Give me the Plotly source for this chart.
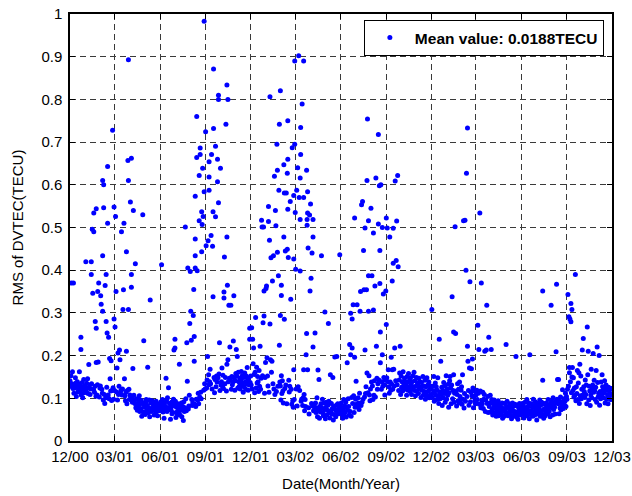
import pandas as pd
import plotly.graph_objects as go

# ---------------- data ----------------
tick_labels = ['12/00', '03/01', '06/01', '09/01', '12/01', '03/02', '06/02',
               '09/02', '12/02', '03/03', '06/03', '09/03', '12/03']
legend_text = 'Mean value: 0.0188TECU'

# quiet-day RMS values (TECU), one list per 3-month period, in time order
base_q1 = [0.141,0.128,0.153,0.119,0.134,0.162,0.123,0.145,0.112,0.131,
           0.124,0.148,0.136,0.104,0.127,0.139,0.115,0.132,0.121,0.094,
           0.133,0.117,0.142,0.108,0.126,0.137,0.101,0.122,0.144,0.113,
           0.129,0.118,0.103,0.116,0.135,0.124,0.146,0.111,0.098,0.125,
           0.131,0.109,0.122,0.102,0.134,0.119,0.113,0.141,0.121,0.097,
           0.114,0.128,0.117,0.105,0.123,0.108,0.132,0.092,0.118,0.111,
           0.103,0.124,0.129,0.107,0.099,0.121,0.112,0.127,0.096,0.118,
           0.109,0.088,0.116,0.101,0.113,0.126,0.119,0.097,0.108,0.122,
           0.099,0.114,0.091,0.117,0.106,0.095,0.118,0.104,0.125,0.098,0.111]
base_q2 = [0.118,0.107,0.098,0.126,0.115,0.104,0.096,0.121,0.109,0.128,
           0.116,0.097,0.112,0.119,0.089,0.108,0.122,0.101,0.113,0.127,
           0.117,0.106,0.094,0.115,0.103,0.087,0.118,0.099,0.111,0.121,
           0.097,0.108,0.086,0.102,0.116,0.105,0.091,0.098,0.079,0.107,
           0.096,0.088,0.104,0.078,0.099,0.085,0.072,0.097,0.081,0.093,
           0.106,0.069,0.087,0.076,0.095,0.058,0.089,0.077,0.068,0.098,
           0.084,0.079,0.062,0.091,0.097,0.071,0.083,0.088,0.066,0.078,
           0.096,0.057,0.081,0.089,0.069,0.076,0.094,0.073,0.086,0.079,
           0.061,0.087,0.074,0.067,0.093,0.082,0.088,0.059,0.077,0.071,0.085,0.079]
base_q3 = [0.083,0.071,0.092,0.063,0.078,0.097,0.068,0.084,0.053,0.089,
           0.072,0.081,0.061,0.094,0.069,0.101,0.077,0.058,0.073,0.088,
           0.079,0.051,0.074,0.091,0.064,0.082,0.067,0.098,0.059,0.085,
           0.071,0.093,0.055,0.079,0.068,0.062,0.087,0.076,0.066,0.103,
           0.061,0.083,0.072,0.089,0.057,0.074,0.081,0.048,0.092,0.069,
           0.078,0.063,0.099,0.071,0.084,0.058,0.088,0.075,0.082,0.107,
           0.068,0.091,0.079,0.062,0.097,0.083,0.089,0.073,0.102,0.077,
           0.086,0.109,0.081,0.098,0.092,0.118,0.096,0.112,0.087,0.121,
           0.103,0.127,0.114,0.099,0.123,0.108,0.131,0.104,0.119,0.113,0.134,0.122]
base_q4 = [0.132,0.151,0.124,0.143,0.162,0.128,0.147,0.119,0.139,0.168,
           0.134,0.153,0.141,0.122,0.158,0.137,0.129,0.149,0.113,0.144,
           0.161,0.127,0.152,0.138,0.121,0.148,0.133,0.157,0.142,0.118,
           0.146,0.131,0.139,0.171,0.128,0.154,0.123,0.141,0.163,0.134,
           0.149,0.137,0.117,0.159,0.131,0.152,0.139,0.112,0.147,0.126,
           0.143,0.164,0.121,0.151,0.132,0.138,0.169,0.127,0.148,0.119,
           0.141,0.158,0.133,0.152,0.137,0.124,0.161,0.139,0.128,0.147,
           0.122,0.144,0.163,0.131,0.153,0.136,0.114,0.149,0.127,0.159,
           0.138,0.121,0.152,0.134,0.172,0.143,0.119,0.148,0.131,0.162,0.137]
base_q5 = [0.152,0.131,0.164,0.122,0.143,0.181,0.134,0.156,0.113,0.161,
           0.142,0.124,0.173,0.136,0.151,0.139,0.116,0.165,0.128,0.154,
           0.121,0.147,0.188,0.132,0.153,0.119,0.162,0.141,0.112,0.149,
           0.133,0.171,0.138,0.124,0.152,0.129,0.158,0.114,0.143,0.127,
           0.148,0.118,0.161,0.137,0.103,0.134,0.151,0.122,0.139,0.109,
           0.131,0.147,0.116,0.142,0.098,0.128,0.119,0.153,0.107,0.138,
           0.121,0.096,0.132,0.111,0.141,0.117,0.089,0.129,0.106,0.123,
           0.097,0.131,0.108,0.087,0.118,0.101,0.126,0.104,0.115,0.091,
           0.112,0.099,0.121,0.086,0.109,0.094,0.079,0.106,0.097,0.088]
base_q6 = [0.108,0.091,0.122,0.099,0.082,0.113,0.127,0.088,0.102,0.118,
           0.079,0.107,0.093,0.098,0.116,0.083,0.101,0.089,0.109,0.071,
           0.097,0.081,0.092,0.111,0.068,0.087,0.103,0.078,0.063,0.091,
           0.076,0.099,0.069,0.088,0.058,0.082,0.097,0.071,0.086,0.079,
           0.061,0.089,0.067,0.078,0.101,0.057,0.083,0.072,0.092,0.053,
           0.081,0.068,0.087,0.062,0.077,0.098,0.066,0.059,0.089,0.074,
           0.069,0.052,0.079,0.091,0.061,0.072,0.084,0.058,0.093,0.067,
           0.054,0.082,0.071,0.088,0.063,0.076,0.068,0.049,0.081,0.062,
           0.092,0.073,0.057,0.084,0.051,0.069,0.087,0.064,0.078,0.066,0.059,0.083]
base_q7 = [0.071,0.089,0.062,0.078,0.053,0.074,0.097,0.064,0.082,0.068,
           0.091,0.056,0.079,0.063,0.072,0.099,0.081,0.061,0.087,0.069,
           0.083,0.058,0.102,0.073,0.088,0.077,0.106,0.067,0.092,0.079,
           0.098,0.071,0.086,0.108,0.082,0.101,0.089,0.074,0.112,0.093,
           0.104,0.083,0.117,0.091,0.109,0.098,0.081,0.121,0.103,0.092,
           0.111,0.127,0.099,0.118,0.087,0.113,0.102,0.131,0.108,0.094,
           0.122,0.101,0.138,0.112,0.129,0.097,0.119,0.107,0.141,0.123,
           0.103,0.132,0.114,0.148,0.121,0.134,0.109,0.143,0.118,0.104,
           0.133,0.152,0.121,0.139,0.112,0.128,0.117,0.149,0.131,0.108,0.142,0.124]
base_q8 = [0.131,0.148,0.122,0.139,0.163,0.127,0.112,0.151,0.138,0.119,
           0.157,0.133,0.146,0.121,0.142,0.168,0.129,0.153,0.114,0.141,
           0.124,0.161,0.132,0.137,0.149,0.118,0.143,0.159,0.128,0.109,
           0.152,0.126,0.139,0.117,0.162,0.136,0.128,0.147,0.121,0.138,
           0.129,0.107,0.151,0.137,0.119,0.158,0.126,0.142,0.116,0.148,
           0.131,0.109,0.139,0.122,0.153,0.127,0.161,0.118,0.141,0.106,
           0.128,0.149,0.117,0.136,0.131,0.111,0.147,0.123,0.139,0.126,
           0.102,0.137,0.119,0.128,0.151,0.108,0.129,0.116,0.142,0.098,
           0.127,0.113,0.148,0.106,0.131,0.117,0.138,0.101,0.121,0.129,0.109]
base_q9 = [0.121,0.139,0.102,0.128,0.112,0.151,0.093,0.117,0.136,0.108,
           0.127,0.097,0.119,0.148,0.106,0.088,0.131,0.114,0.099,0.142,
           0.109,0.126,0.083,0.118,0.101,0.137,0.111,0.129,0.091,0.116,
           0.153,0.098,0.122,0.107,0.133,0.079,0.113,0.141,0.096,0.124,
           0.087,0.131,0.106,0.099,0.118,0.143,0.091,0.112,0.128,0.097,
           0.117,0.082,0.109,0.134,0.094,0.121,0.089,0.138,0.104,0.096,
           0.119,0.127,0.086,0.108,0.098,0.123,0.077,0.111,0.129,0.093,
           0.088,0.116,0.104,0.137,0.096,0.118,0.084,0.109,0.126,0.092,
           0.114,0.083,0.106,0.097,0.124,0.078,0.103,0.117,0.094,0.087]
base_q10 = [0.108,0.089,0.119,0.097,0.079,0.112,0.127,0.086,0.101,0.117,
            0.078,0.106,0.094,0.087,0.114,0.076,0.098,0.109,0.084,0.069,
            0.096,0.113,0.077,0.088,0.104,0.067,0.093,0.081,0.089,0.107,
            0.068,0.086,0.097,0.074,0.061,0.088,0.079,0.096,0.066,0.084,
            0.076,0.058,0.087,0.069,0.081,0.094,0.059,0.077,0.067,0.086,
            0.062,0.079,0.068,0.089,0.053,0.076,0.071,0.058,0.088,0.074,
            0.066,0.057,0.081,0.093,0.064,0.059,0.078,0.068,0.087,0.061,
            0.076,0.069,0.052,0.079,0.089,0.058,0.071,0.082,0.063,0.086,
            0.068,0.077,0.056,0.084,0.066,0.051,0.079,0.072,0.088,0.061,0.074,0.067]
base_q11 = [0.079,0.063,0.088,0.069,0.082,0.054,0.073,0.091,0.061,0.077,
            0.068,0.097,0.059,0.081,0.072,0.089,0.052,0.076,0.066,0.062,
            0.087,0.071,0.079,0.058,0.098,0.067,0.083,0.061,0.092,0.074,
            0.081,0.049,0.069,0.088,0.063,0.078,0.071,0.096,0.058,0.084,
            0.066,0.091,0.062,0.079,0.073,0.053,0.087,0.076,0.059,0.068,
            0.089,0.072,0.081,0.064,0.097,0.077,0.069,0.086,0.057,0.082,
            0.071,0.093,0.078,0.061,0.101,0.074,0.088,0.079,0.063,0.092,
            0.069,0.083,0.098,0.072,0.087,0.081,0.064,0.094,0.077,0.103,
            0.073,0.089,0.082,0.108,0.091,0.076,0.099,0.084,0.093,0.112,0.081,0.104]
base_q12 = [0.098,0.121,0.089,0.128,0.109,0.082,0.117,0.139,0.101,0.113,
            0.131,0.092,0.118,0.148,0.103,0.124,0.107,0.141,0.094,0.127,
            0.111,0.122,0.097,0.136,0.119,0.088,0.129,0.106,0.152,0.099,
            0.121,0.138,0.108,0.091,0.127,0.116,0.102,0.143,0.109,0.131,
            0.087,0.119,0.147,0.112,0.096,0.128,0.117,0.083,0.108,0.139,
            0.101,0.123,0.131,0.093,0.114,0.142,0.118,0.097,0.126,0.109,
            0.091,0.121,0.137,0.103,0.112,0.129,0.084,0.116,0.099,0.138,
            0.107,0.092,0.127,0.119,0.101,0.113,0.141,0.089,0.122,0.131,
            0.098,0.118,0.108,0.087,0.126,0.102,0.119,0.111,0.097,0.123,0.109]

# disturbed days: day number since 2000-12-01 and RMS value (TECU)
spike_day = [3, 7, 19, 22, 22, 32, 38, 43, 43, 45, 46, 48, 48, 51, 53, 53, 53, 56, 57, 58,
             62, 63, 66, 66, 66, 68, 68, 71, 73, 73, 75, 76, 76, 78, 80, 81, 83, 86, 89, 89,
             91, 92, 93, 95, 97, 100, 101, 104, 107, 108, 109, 110, 114, 114, 117, 118, 118, 118, 122, 124,
             124, 124, 127, 128, 132, 147, 149, 157, 162,
             185, 194, 199, 210, 212, 212, 221, 233, 236, 237, 238, 242, 243, 244, 245, 249, 250, 251, 251, 253,
             253, 253, 253, 256, 256, 257, 261, 261, 263, 263, 266, 266, 267, 268, 269, 271, 271, 274, 275, 278,
             279, 280, 281, 281, 281, 281, 285, 286, 288, 289, 289, 290, 290, 294, 294, 298, 298, 300, 300, 300,
             302, 304, 311, 311, 312, 315, 317, 317, 317, 318, 319, 319, 321, 323, 325, 330, 331, 336, 338, 363, 363,
             367, 369, 371, 375, 384, 387, 388, 390, 391, 392, 392, 395, 396, 397, 398, 401, 401, 403, 404, 404,
             405, 406, 408, 409, 411, 413, 415, 416, 418, 419, 419, 421, 422, 423, 423, 425, 425, 425, 427, 427,
             427, 432, 432, 433, 433, 435, 437, 439, 439, 440, 440, 440, 441, 442, 444, 445, 446, 449, 452, 452,
             452, 454, 454, 455, 456, 458, 460, 462, 463, 465, 465, 465, 466, 466, 469, 472, 472, 472, 477, 478,
             478, 479, 479, 480, 480, 480, 481, 484, 485, 486, 487, 489, 491, 491, 491, 495, 501, 503, 508, 515,
             522, 526, 531, 535, 539,
             545, 560, 565, 567, 567, 570, 570, 572, 575, 575, 578, 580, 586, 587, 589, 591, 593, 594, 596, 596,
             599, 600, 600, 601, 603, 603, 603, 604, 608, 610, 613, 613, 616, 618, 619, 620, 623, 623, 625, 626,
             626, 627, 627, 628, 631, 631, 633, 638, 639, 639, 641, 643, 646, 649, 651, 651, 653, 653, 656, 657,
             659, 660, 662, 663, 667,
             731, 746, 749, 768, 772, 775, 775, 778, 779, 793, 795, 798, 800, 801, 803, 803, 804, 807, 808, 811,
             813, 824, 826, 828, 831, 838, 841, 842, 846, 851, 881, 901, 929,
             955, 955, 972, 982, 983, 985, 987, 995, 1006, 1008, 1009, 1009, 1010, 1012, 1012, 1014, 1014, 1015, 1021, 1025,
             1028, 1030, 1035, 1037, 1045, 1046, 1047, 1053, 1057, 1063, 1065, 1069, 1075]
spike_rms = [0.370, 0.370, 0.162, 0.243, 0.214, 0.420, 0.179, 0.420, 0.390, 0.496, 0.346, 0.534, 0.490, 0.280, 0.544, 0.264, 0.184, 0.350, 0.185, 0.370,
             0.340, 0.320, 0.610, 0.434, 0.304, 0.600, 0.546, 0.364, 0.390, 0.280, 0.253, 0.643, 0.510, 0.243, 0.193, 0.146, 0.188, 0.728, 0.548, 0.286,
             0.267, 0.526, 0.350, 0.171, 0.206, 0.213, 0.190, 0.490, 0.308, 0.354, 0.510, 0.146, 0.443, 0.210, 0.657, 0.893, 0.610, 0.308, 0.560, 0.662,
             0.390, 0.360, 0.170, 0.540, 0.415, 0.530, 0.235, 0.173, 0.330,
             0.413, 0.147, 0.125, 0.213, 0.238, 0.218, 0.180, 0.501, 0.230, 0.140, 0.405, 0.275, 0.397, 0.304, 0.236, 0.294, 0.355, 0.245, 0.187, 0.573,
             0.473, 0.434, 0.405, 0.760, 0.664, 0.399, 0.622, 0.516, 0.686, 0.671, 0.537, 0.443, 0.507, 0.639, 0.526, 0.983, 0.584, 0.724, 0.457, 0.198,
             0.469, 0.155, 0.654, 0.618, 0.587, 0.132, 0.481, 0.671, 0.456, 0.537, 0.338, 0.871, 0.732, 0.690, 0.525, 0.660, 0.607, 0.810, 0.800, 0.558,
             0.230, 0.639, 0.349, 0.335, 0.431, 0.742, 0.834, 0.478, 0.180, 0.365, 0.800, 0.190, 0.318, 0.220, 0.318, 0.234, 0.340, 0.214, 0.198, 0.264, 0.238,
             0.265, 0.238, 0.218, 0.289, 0.222, 0.517, 0.501, 0.277, 0.501, 0.351, 0.293, 0.184, 0.357, 0.363, 0.195, 0.549, 0.514, 0.470, 0.806, 0.274,
             0.190, 0.429, 0.187, 0.375, 0.434, 0.620, 0.540, 0.504, 0.695, 0.634, 0.442, 0.387, 0.587, 0.742, 0.224, 0.820, 0.294, 0.129, 0.365, 0.341,
             0.153, 0.647, 0.478, 0.581, 0.285, 0.445, 0.581, 0.627, 0.449, 0.750, 0.660, 0.543, 0.430, 0.142, 0.128, 0.561, 0.332, 0.687, 0.575, 0.426,
             0.167, 0.890, 0.695, 0.535, 0.402, 0.587, 0.640, 0.902, 0.570, 0.616, 0.519, 0.398, 0.734, 0.671, 0.789, 0.890, 0.570, 0.167, 0.202, 0.634,
             0.252, 0.519, 0.505, 0.584, 0.534, 0.167, 0.452, 0.529, 0.351, 0.555, 0.381, 0.440, 0.519, 0.478, 0.220, 0.253, 0.166, 0.144, 0.434, 0.302,
             0.275, 0.155, 0.149, 0.197, 0.198,
             0.436, 0.183, 0.226, 0.299, 0.202, 0.286, 0.218, 0.319, 0.522, 0.196, 0.140, 0.319, 0.304, 0.350, 0.553, 0.561, 0.446, 0.354, 0.499, 0.213,
             0.354, 0.610, 0.159, 0.754, 0.516, 0.387, 0.304, 0.153, 0.545, 0.387, 0.487, 0.307, 0.363, 0.616, 0.222, 0.147, 0.718, 0.508, 0.598, 0.446,
             0.369, 0.255, 0.183, 0.600, 0.500, 0.202, 0.344, 0.351, 0.522, 0.273, 0.499, 0.167, 0.478, 0.196, 0.375, 0.167, 0.498, 0.416, 0.218, 0.609,
             0.423, 0.515, 0.622, 0.408, 0.222,
             0.308, 0.238, 0.187, 0.151, 0.338, 0.255, 0.155, 0.502, 0.252, 0.155, 0.516, 0.517, 0.400, 0.627, 0.733, 0.222, 0.187, 0.171, 0.373, 0.169,
             0.192, 0.271, 0.214, 0.534, 0.370, 0.210, 0.213, 0.318, 0.243, 0.214, 0.226, 0.198, 0.202,
             0.351, 0.142, 0.318, 0.209, 0.367, 0.144, 0.144, 0.120, 0.343, 0.291, 0.172, 0.160, 0.286, 0.322, 0.279, 0.308, 0.150, 0.172, 0.390, 0.165,
             0.160, 0.180, 0.213, 0.240, 0.267, 0.155, 0.210, 0.168, 0.205, 0.165, 0.220, 0.200, 0.155]

baseline_q = [base_q1, base_q2, base_q3, base_q4, base_q5, base_q6,
              base_q7, base_q8, base_q9, base_q10, base_q11, base_q12]

# ---------------- build points ----------------
start = pd.Timestamp('2000-12-01')
quarter_starts = pd.date_range(start, periods=13, freq='3MS')
spike_set = set(spike_day)

xs, ys = [], []
for i, vals in enumerate(baseline_q):
    off0 = (quarter_starts[i] - start).days
    qlen = (quarter_starts[i + 1] - quarter_starts[i]).days
    for k, v in enumerate(vals):
        d = off0 + k * qlen / len(vals)
        if round(d) in spike_set:
            continue
        xs.append(start + pd.Timedelta(days=d))
        ys.append(v)
for d, v in zip(spike_day, spike_rms):
    xs.append(start + pd.Timedelta(days=d))
    ys.append(v)

FONT = 'Liberation Sans, Arial, Helvetica, sans-serif'

fig = go.Figure()
fig.add_trace(go.Scatter(
    x=xs, y=ys, mode='markers', name=legend_text,
    marker=dict(color='rgb(0,0,255)', size=5, line=dict(width=0)),
))

axis_common = dict(
    showgrid=True, gridcolor='#3a3a3a', gridwidth=1, griddash='6px,4px',
    showline=True, linecolor='black', linewidth=1.5, mirror='ticks',
    ticks='inside', ticklen=5, tickcolor='black', tickwidth=1,
    zeroline=False, automargin=False,
    tickfont=dict(family=FONT, size=15, color='black'),
)

fig.update_layout(
    width=632, height=496,
    margin=dict(l=70, r=20, t=14, b=55, autoexpand=False),
    paper_bgcolor='white', plot_bgcolor='white',
    xaxis=dict(
        type='date',
        range=[quarter_starts[0], quarter_starts[-1]],
        tickmode='array', tickvals=list(quarter_starts), ticktext=tick_labels,
        ticklabelstandoff=1,
        title=dict(text='Date(Month/Year)', font=dict(family=FONT, size=15, color='black'), standoff=15),
        **axis_common,
    ),
    yaxis=dict(
        range=[0, 1], tickmode='linear', tick0=0, dtick=0.1,
        ticklabelstandoff=3,
        title=dict(text='RMS of DVTEC(TECU)', font=dict(family=FONT, size=15, color='black'), standoff=14),
        **axis_common,
    ),
    showlegend=True,
    legend=dict(
        x=0.985, y=0.986, xanchor='right', yanchor='top',
        bgcolor='white', bordercolor='black', borderwidth=1,
        itemwidth=40,
        font=dict(family=FONT, size=15.5, color='black', weight='bold'),
    ),
)

fig.write_html('out.html')
